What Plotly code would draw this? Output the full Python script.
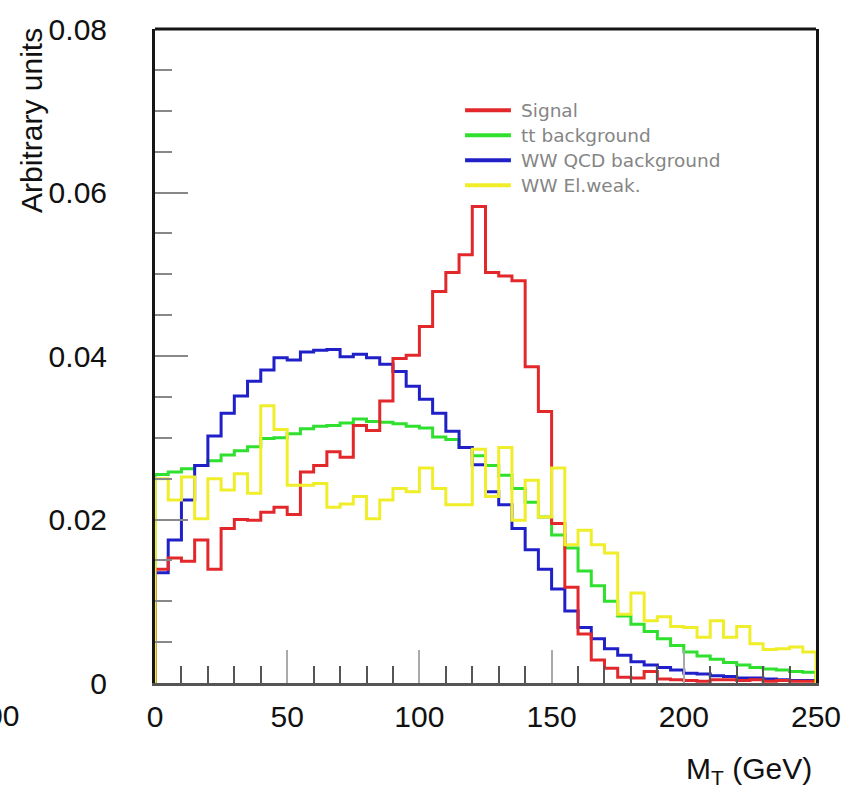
import numpy as np
import plotly.graph_objects as go

# ---------------- data ----------------
bin_width = 5
mt_edges = np.arange(0, 250 + bin_width, bin_width)  # 0..250 GeV

signal = [0.0139, 0.0153, 0.0149, 0.0175, 0.0139, 0.0189, 0.0200, 0.0199, 0.0209, 0.0215,
          0.0206, 0.0258, 0.0266, 0.0283, 0.0276, 0.0315, 0.0309, 0.0345, 0.0397, 0.0401,
          0.0436, 0.0479, 0.0502, 0.0524, 0.0583, 0.0502, 0.0498, 0.0492, 0.0387, 0.0332,
          0.0195, 0.0117, 0.0060, 0.0028, 0.0018, 0.0007, 0.0006, 0.0014, 0.0005, 0.0004,
          0.0003, 0.0002, 0.0004, 0.0004, 0.0003, 0.0004, 0.0002, 0.0003, 0.0002, 0.0002]

tt_bkg = [0.0255, 0.0258, 0.0262, 0.0266, 0.0272, 0.0279, 0.0284, 0.0289, 0.0299, 0.0300,
          0.0305, 0.0311, 0.0314, 0.0315, 0.0318, 0.0323, 0.0320, 0.0319, 0.0317, 0.0314,
          0.0312, 0.0301, 0.0298, 0.0288, 0.0278, 0.0266, 0.0254, 0.0238, 0.0221, 0.0203,
          0.0181, 0.0165, 0.0137, 0.0119, 0.0100, 0.0082, 0.0072, 0.0063, 0.0054, 0.0046,
          0.0038, 0.0033, 0.0029, 0.0025, 0.0022, 0.0019, 0.0017, 0.0016, 0.0014, 0.0013]

ww_qcd = [0.0135, 0.0175, 0.0224, 0.0266, 0.0302, 0.0330, 0.0351, 0.0369, 0.0383, 0.0398,
          0.0395, 0.0405, 0.0407, 0.0408, 0.0399, 0.0402, 0.0398, 0.0390, 0.0381, 0.0363,
          0.0347, 0.0330, 0.0308, 0.0288, 0.0267, 0.0234, 0.0218, 0.0189, 0.0163, 0.0139,
          0.0115, 0.0088, 0.0068, 0.0054, 0.0042, 0.0034, 0.0026, 0.0022, 0.0019, 0.0016,
          0.0012, 0.0011, 0.0009, 0.0008, 0.0006, 0.0006, 0.0005, 0.0004, 0.0003, 0.0003]

ww_ew = [0.0250, 0.0224, 0.0252, 0.0201, 0.0250, 0.0236, 0.0256, 0.0232, 0.0339, 0.0310,
         0.0242, 0.0242, 0.0244, 0.0215, 0.0219, 0.0228, 0.0201, 0.0224, 0.0238, 0.0234,
         0.0263, 0.0238, 0.0218, 0.0218, 0.0286, 0.0228, 0.0288, 0.0199, 0.0248, 0.0203,
         0.0263, 0.0169, 0.0187, 0.0169, 0.0159, 0.0084, 0.0110, 0.0076, 0.0081, 0.0069,
         0.0068, 0.0056, 0.0076, 0.0056, 0.0069, 0.0048, 0.0041, 0.0042, 0.0044, 0.0038]

series_names = ["Signal", "tt background", "WW QCD background", "WW El.weak."]
series_values = [signal, tt_bkg, ww_qcd, ww_ew]
series_colors = ["#e3282c", "#2fe02f", "#2020c8", "#f0ee2a"]
draw_order = [1, 2, 0, 3]

x_tick_vals = [0, 50, 100, 150, 200, 250]
x_tick_labels = ["0", "50", "100", "150", "200", "250"]
y_tick_vals = [0, 0.02, 0.04, 0.06, 0.08]
y_tick_labels = ["0", "0.02", "0.04", "0.06", "0.08"]

# ---------------- figure ----------------
W, H = 853, 788
L, R, T, B = 155, 35, 22, 105
pw, ph = W - L - R, H - T - B


def px_to_paper(px, py):
    return (px - L) / pw, (H - B - py) / ph


fig = go.Figure()
for i in draw_order:
    vals = series_values[i]
    xs = np.concatenate([[mt_edges[0]], mt_edges, [mt_edges[-1]]])
    ys = [0] + list(vals) + [vals[-1], 0]
    fig.add_trace(go.Scatter(
        x=xs, y=ys, mode="lines", line=dict(color=series_colors[i], width=3, shape="hv"),
        name=series_names[i], showlegend=False, hoverinfo="skip"))

tick_font = dict(family="Liberation Sans, Arial, sans-serif", size=30, color="#111111")

fig.update_xaxes(
    range=[0, 250], tickmode="array", tickvals=x_tick_vals, ticktext=x_tick_labels,
    ticks="inside", ticklen=33, tickwidth=2, tickcolor="#aaaaaa",
    minor=dict(ticks="inside", tickmode="linear", tick0=0, dtick=10, ticklen=17,
               tickwidth=2, tickcolor="#555555", showgrid=False),
    showline=True, linecolor="#555555", linewidth=3, mirror=False,
    showgrid=False, zeroline=False, tickfont=tick_font, ticklabelstandoff=5)

fig.update_yaxes(
    range=[0, 0.08], tickmode="array", tickvals=y_tick_vals, ticktext=y_tick_labels,
    ticks="inside", ticklen=33, tickwidth=2, tickcolor="#888888",
    minor=dict(ticks="inside", tickmode="linear", tick0=0, dtick=0.005, ticklen=17,
               tickwidth=2, tickcolor="#888888", showgrid=False),
    showline=True, linecolor="#151515", linewidth=3, mirror=True,
    showgrid=False, zeroline=False, tickfont=tick_font, ticklabelstandoff=39)

shapes = [dict(type="line", xref="paper", yref="paper", x0=0, x1=1, y0=1, y1=1,
               line=dict(color="#151515", width=3))]
annotations = []

# legend (manual, ROOT-like)
leg_x0, leg_x1, leg_text_x = 466, 512, 520
leg_y0, leg_dy = 104, 25.3
for k, (name, col) in enumerate(zip(series_names, series_colors)):
    yy = leg_y0 + k * leg_dy
    xa, ya = px_to_paper(leg_x0, yy)
    xb, _ = px_to_paper(leg_x1, yy)
    shapes.append(dict(type="line", xref="paper", yref="paper", x0=xa, x1=xb, y0=ya, y1=ya,
                       line=dict(color=col, width=4)))
    xt, yt = px_to_paper(leg_text_x, yy)
    annotations.append(dict(xref="paper", yref="paper", x=xt, y=yt, text=name,
                            xanchor="left", yanchor="middle", showarrow=False,
                            font=dict(family="DejaVu Sans", size=18.5, color="#858585")))

# axis titles
ax, ay = px_to_paper(31, 19)
annotations.append(dict(xref="paper", yref="paper", x=ax, y=ay, text="Arbitrary units",
                        textangle=-90, xanchor="center", yanchor="top", showarrow=False,
                        font=dict(family="Liberation Sans, Arial, sans-serif", size=30,
                                  color="#111111")))
bx, by = px_to_paper(816, 771)
annotations.append(dict(xref="paper", yref="paper", x=bx, y=by, text="M<sub>T</sub> (GeV)",
                        xanchor="right", yanchor="middle", showarrow=False,
                        font=dict(family="Liberation Sans, Arial, sans-serif", size=30,
                                  color="#111111")))
# clipped label remnant from neighbouring panel at left edge
cx, cy = px_to_paper(21, 716)
annotations.append(dict(xref="paper", yref="paper", x=cx, y=cy, text="00",
                        xanchor="right", yanchor="middle", showarrow=False,
                        font=dict(family="Liberation Sans, Arial, sans-serif", size=30,
                                  color="#111111")))

fig.update_layout(
    width=W, height=H, margin=dict(l=L, r=R, t=T, b=B, pad=0),
    paper_bgcolor="white", plot_bgcolor="white", showlegend=False,
    shapes=shapes, annotations=annotations)

fig.write_html("out.html")
